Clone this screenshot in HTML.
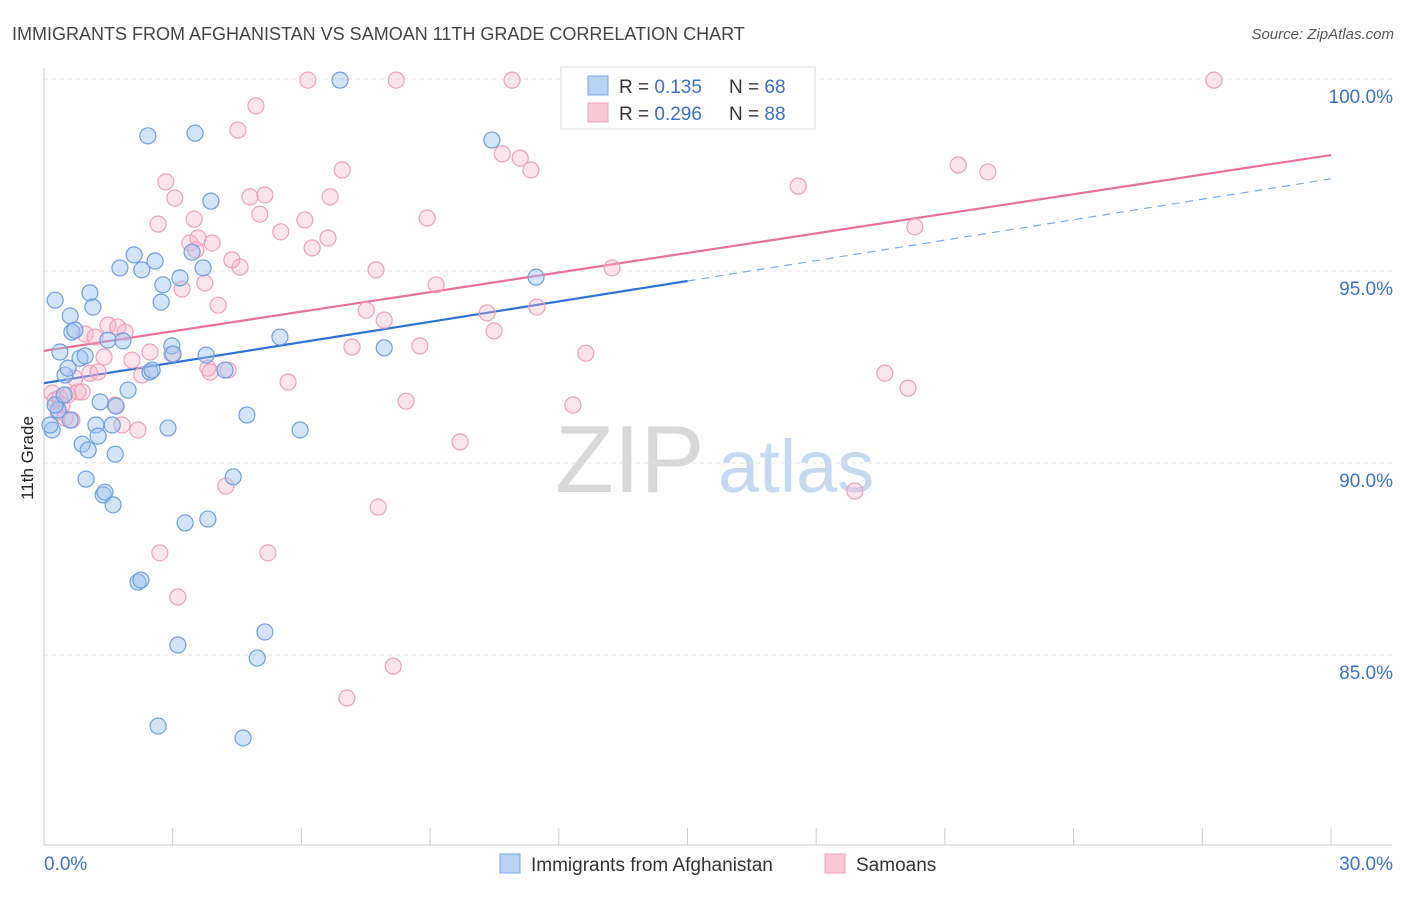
<!DOCTYPE html>
<html><head><meta charset="utf-8"><style>
body{margin:0;background:#fff;font-family:"Liberation Sans",sans-serif}
svg text{font-family:"Liberation Sans",sans-serif}
</style></head><body>
<svg id="chart" width="1406" height="892" viewBox="0 0 1406 892">
<text x="12" y="40" font-size="18" fill="#444">IMMIGRANTS FROM AFGHANISTAN VS SAMOAN 11TH GRADE CORRELATION CHART</text>
<text x="1394" y="39" font-size="15" fill="#555" text-anchor="end" font-style="italic">Source: ZipAtlas.com</text>
<text transform="translate(33,458) rotate(-90)" font-size="17" fill="#222" text-anchor="middle">11th Grade</text>
<g>
<text x="555" y="492" font-size="96" font-family="Liberation Serif,serif" fill="#d8d8d8">ZIP</text>
<text x="718" y="492" font-size="74" fill="#c6d9f0">atlas</text>
</g>
<g id="grid"></g><g id="axes"></g><g id="lines"></g><g id="pts"></g>
<g>
<rect x="561" y="67" width="254" height="62" fill="#fff" stroke="#ddd"/>
<rect x="588" y="76" width="20" height="19" fill="#b8d2f3" stroke="#7aaae6"/>
<text x="619" y="93" font-size="19" fill="#333">R = <tspan fill="#3a70c8">0.135</tspan></text>
<text x="729" y="93" font-size="19" fill="#333">N = <tspan fill="#3a70c8">68</tspan></text>
<rect x="588" y="103" width="20" height="19" fill="#f8c8d6" stroke="#eea0b8"/>
<text x="619" y="120" font-size="19" fill="#333">R = <tspan fill="#3a70c8">0.296</tspan></text>
<text x="729" y="120" font-size="19" fill="#333">N = <tspan fill="#3a70c8">88</tspan></text>
</g>
<g>
<rect x="500" y="854" width="20" height="19" fill="#b8d2f3" stroke="#7aaae6"/>
<text x="531" y="871" font-size="19" fill="#333">Immigrants from Afghanistan</text>
<rect x="825" y="854" width="20" height="19" fill="#f8c8d6" stroke="#eea0b8"/>
<text x="856" y="871" font-size="19" fill="#333">Samoans</text>
</g>
</svg>
<script>
const blueX=[0.19,0.14,0.26,0.37,0.49,0.56,0.61,0.65,0.72,0.84,0.89,0.96,1.03,0.98,1.07,1.14,1.21,1.26,1.31,1.38,1.42,1.49,1.59,1.61,1.66,1.68,1.77,1.84,1.96,2.10,2.19,2.26,2.28,2.42,2.47,2.52,2.59,2.66,2.73,2.77,2.89,2.98,3.01,3.12,3.17,3.29,3.45,3.52,3.71,3.78,3.82,3.89,4.22,4.41,4.64,4.73,4.97,5.15,5.50,5.97,6.90,7.93,10.44,11.47,0.33,0.26,0.61,0.47];
const blueY=[90.86,90.99,94.24,92.89,92.29,92.47,93.83,93.41,93.46,92.73,90.49,92.79,90.34,89.58,94.43,94.06,90.99,90.70,91.59,89.17,89.24,93.20,90.99,88.91,90.23,91.48,95.08,93.18,91.90,95.42,86.90,86.95,95.03,98.52,92.37,92.42,95.26,83.15,94.19,94.64,90.91,93.05,92.84,85.26,94.82,88.44,95.49,98.59,95.08,92.81,88.54,96.82,92.42,89.64,82.84,91.25,84.92,85.60,93.28,90.86,99.97,93.00,98.41,94.84,91.38,91.51,91.12,91.77];
const pinkX=[0.19,0.26,0.33,0.37,0.42,0.49,0.56,0.65,0.72,0.79,0.89,0.96,1.07,1.19,1.26,1.40,1.49,1.66,1.72,1.82,1.89,2.05,2.19,2.28,2.47,2.66,2.70,2.84,2.98,3.05,3.12,3.22,3.40,3.50,3.54,3.59,3.75,3.82,3.87,3.92,4.06,4.24,4.29,4.38,4.52,4.57,4.80,4.94,5.03,5.15,5.22,5.52,5.69,6.08,6.15,6.25,6.62,6.67,6.95,7.06,7.18,7.51,7.74,7.79,7.93,8.14,8.21,8.44,8.76,8.93,9.14,9.70,10.33,10.49,10.68,10.91,11.10,11.35,11.49,12.33,12.63,13.24,13.99,17.58,18.90,19.60,20.14,20.30,21.31,22.00,27.27];
const pinkY=[91.82,91.64,91.33,91.69,91.51,91.17,91.77,91.12,92.21,91.85,91.85,93.36,92.34,93.28,92.37,92.76,93.59,91.51,93.54,90.99,93.41,92.68,90.86,92.29,92.89,96.22,87.66,97.32,92.84,96.90,86.51,94.53,95.73,96.35,95.55,95.86,94.69,92.47,92.37,95.73,94.11,89.40,92.42,95.29,98.67,95.10,96.93,99.30,96.48,96.98,87.66,96.02,92.11,96.33,99.97,95.60,95.86,96.93,97.63,83.88,93.02,93.98,95.03,88.85,93.72,84.71,99.97,91.61,93.05,96.38,94.64,90.55,93.91,93.44,98.05,99.97,97.94,97.63,94.06,91.51,92.86,95.08,99.97,97.21,89.27,92.34,91.95,96.15,97.76,97.58,99.97];
const blueTrend=[92.08,97.4];
const pinkTrend=[92.92,98.02];
const yTicks=[100,95,90,85];
const xTickLabels=["0.0%","30.0%"];
const NS="http://www.w3.org/2000/svg";
const X0=44,X1=1331,YTOP=79;
const sx=v=>X0+(v/30)*(X1-X0);
const sy=v=>YTOP+(100-v)*38.4;
function mk(t,a,p){const e=document.createElementNS(NS,t);for(const k in a)e.setAttribute(k,a[k]);p.appendChild(e);return e;}
const grid=document.getElementById('grid'),axes=document.getElementById('axes'),lines=document.getElementById('lines'),pts=document.getElementById('pts');
yTicks.forEach(v=>{
const l=mk('line',{x1:X0,x2:1392,y1:sy(v),y2:sy(v),stroke:'#e0e0e0','stroke-dasharray':'4,4'},grid);


const t=mk('text',{x:1393,y:sy(v)+24,'font-size':19,fill:'#3a70c8','text-anchor':'end'},axes);
t.textContent=v.toFixed(1)+'%';


});
const ax=mk('line',{x1:X0,x2:X0,y1:68,y2:845,stroke:'#ccc'},axes);


const bx=mk('line',{x1:X0,x2:1392,y1:845,y2:845,stroke:'#ccc'},axes);


for(let i=0;i<=10;i++){const tk=mk('line',{x1:sx(i*3),x2:sx(i*3),y1:828,y2:845,stroke:'#ccc'},axes);

}
const xl0=mk('text',{x:44,y:870,'font-size':19,fill:'#3a70c8'},axes);xl0.textContent=xTickLabels[0];


const xl1=mk('text',{x:1393,y:870,'font-size':19,fill:'#3a70c8','text-anchor':'end'},axes);xl1.textContent=xTickLabels[1];


const bAt=x=>blueTrend[0]+(blueTrend[1]-blueTrend[0])*x/30;
const pAt=x=>pinkTrend[0]+(pinkTrend[1]-pinkTrend[0])*x/30;
const pl=mk('line',{x1:sx(0),y1:sy(pAt(0)),x2:sx(30),y2:sy(pAt(30)),stroke:'#e8719a','stroke-width':2.2},lines);


const bl=mk('line',{x1:sx(0),y1:sy(bAt(0)),x2:sx(15),y2:sy(bAt(15)),stroke:'#2f72d6','stroke-width':2.2},lines);


const bd=mk('line',{x1:sx(15),y1:sy(bAt(15)),x2:sx(30),y2:sy(bAt(30)),stroke:'#7aaae6','stroke-width':1.2,'stroke-dasharray':'8,6'},lines);


pinkX.forEach((x,i)=>{const c=mk('circle',{cx:sx(x),cy:sy(pinkY[i]),r:8,fill:'rgba(246,178,200,0.35)',stroke:'#eea0b8','stroke-width':1.2},pts);

});
blueX.forEach((x,i)=>{const c=mk('circle',{cx:sx(x),cy:sy(blueY[i]),r:8,fill:'rgba(160,195,240,0.45)',stroke:'#6b9fe0','stroke-width':1.2},pts);

});
</script>
</body></html>
